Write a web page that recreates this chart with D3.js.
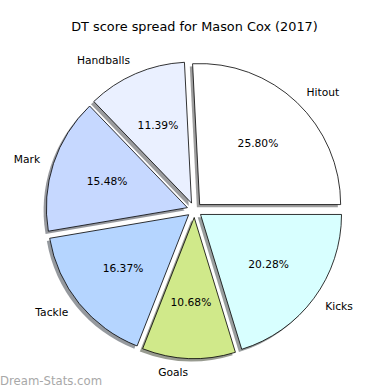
<!DOCTYPE html>
<html>
<head>
<meta charset="utf-8">
<script src="https://cdn.jsdelivr.net/npm/d3@7"></script>
<style>
  body { margin: 0; background: #fff; }
  text { font-family: "DejaVu Sans", sans-serif; }
</style>
</head>
<body>
<div id="chart"></div>
<script>
// slice data, counter-clockwise from 3 o'clock like the original
var categories = ["Hitout", "Handballs", "Mark", "Tackle", "Goals", "Kicks"];
var values = [25.80, 11.39, 15.48, 16.37, 10.68, 20.28];
var colors = ["#ffffff", "#eaf0ff", "#c6d8ff", "#b5d5ff", "#d0e98a", "#d8ffff"];

var width = 390, height = 390,
    cx = 194.5, cy = 210,
    radius = 141,
    explode = 7.5;

var svg = d3.select("#chart").append("svg")
    .attr("width", width)
    .attr("height", height);

svg.append("text")
    .attr("x", cx)
    .attr("y", 26)
    .attr("text-anchor", "middle")
    .attr("dominant-baseline", "central")
    .style("font-size", "12.85px")
    .text("DT score spread for Mason Cox (2017)");

var pie = d3.pie()
    .sort(null)
    .startAngle(Math.PI / 2)
    .endAngle(Math.PI / 2 - 2 * Math.PI);

var arc = d3.arc().innerRadius(0).outerRadius(radius);

var data = pie(values).map(function (d, i) {
    d.name = categories[i];
    d.color = colors[i];
    d.mid = (d.startAngle + d.endAngle) / 2;
    d.dx = Math.sin(d.mid) * explode;
    d.dy = -Math.cos(d.mid) * explode;
    return d;
});

var g = svg.append("g")
    .attr("transform", "translate(" + cx + "," + cy + ")");

// shadows first, shifted left and down
g.selectAll(".shadow")
    .data(data)
    .enter().append("path")
    .attr("class", "shadow")
    .attr("d", arc)
    .attr("transform", function (d) { return "translate(" + (d.dx - 2.8) + "," + (d.dy + 2.8) + ")"; })
    .attr("fill", function (d) { return d3.rgb(d.color).darker(4); })
    .attr("fill-opacity", 0.5);

g.selectAll(".slice")
    .data(data)
    .enter().append("path")
    .attr("class", "slice")
    .attr("d", arc)
    .attr("transform", function (d) { return "translate(" + d.dx + "," + d.dy + ")"; })
    .attr("fill", function (d) { return d.color; })
    .attr("stroke", "#000")
    .attr("stroke-width", 0.8);

// category labels at 1.1 r
g.selectAll(".label")
    .data(data)
    .enter().append("text")
    .attr("class", "label")
    .attr("x", function (d) { return d.dx + Math.sin(d.mid) * radius * 1.1; })
    .attr("y", function (d) { return d.dy - Math.cos(d.mid) * radius * 1.1; })
    .attr("text-anchor", function (d) { return Math.sin(d.mid) > 0 ? "start" : "end"; })
    .attr("dominant-baseline", "central")
    .style("font-size", "10.7px")
    .text(function (d) { return d.name; });

// percentages at 0.6 r
g.selectAll(".pct")
    .data(data)
    .enter().append("text")
    .attr("class", "pct")
    .attr("x", function (d) { return d.dx + Math.sin(d.mid) * radius * 0.6; })
    .attr("y", function (d) { return d.dy - Math.cos(d.mid) * radius * 0.6; })
    .attr("text-anchor", "middle")
    .attr("dominant-baseline", "central")
    .style("font-size", "10.7px")
    .text(function (d) { return d.data.toFixed(2) + "%"; });

svg.append("text")
    .attr("x", 0)
    .attr("y", 385)
    .attr("fill", "#a8a8a8")
    .style("font-size", "11.7px")
    .text("Dream-Stats.com");
</script>
</body>
</html>
